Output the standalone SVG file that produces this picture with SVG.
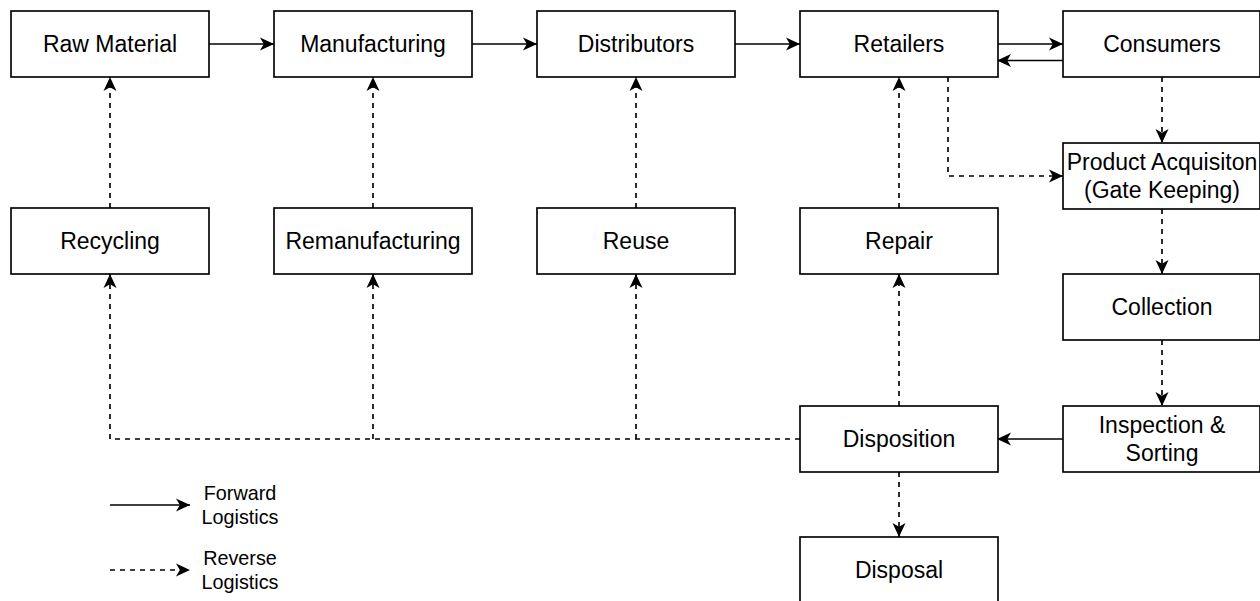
<svg xmlns="http://www.w3.org/2000/svg" width="1260" height="601" viewBox="0 0 1260 601">
  <style>
    .box { fill: #ffffff; stroke: #000000; stroke-width: 1.65; }
    .lbl { font-family: "Liberation Sans", Arial, sans-serif; font-size: 23px; fill: #000000; text-anchor: middle; }
    .leg { font-family: "Liberation Sans", Arial, sans-serif; font-size: 19.8px; fill: #000000; text-anchor: middle; }
    .fwd { fill: none; stroke: #000000; stroke-width: 1.65; marker-end: url(#arrow); }
    .rev { fill: none; stroke: #000000; stroke-width: 1.65; stroke-dasharray: 5 5; marker-end: url(#arrow); }
  </style>
  <defs>
    <!-- classic notched arrowhead, tip sits on the path end -->
    <marker id="arrow" markerUnits="userSpaceOnUse" markerWidth="15" markerHeight="15" refX="14" refY="7" orient="auto" viewBox="0 0 15 15">
      <path d="M0,0.5 L14,7 L0,13.5 L3.8,7 Z" fill="#000000" stroke="none"/>
    </marker>
  </defs>

  <rect width="1260" height="601" fill="#ffffff"/>

  <!-- connectors -->
  <g id="connectors">
    <!-- forward chain -->
    <path class="fwd" d="M209,44 L274,44"/>
    <path class="fwd" d="M472,44 L537,44"/>
    <path class="fwd" d="M735,44 L800,44"/>
    <path class="fwd" d="M997,44 L1063,44"/>
    <path class="fwd" d="M1063,60.5 L997,60.5"/>
    <path class="fwd" d="M1063,439 L997,439"/>

    <!-- returns to the forward chain -->
    <path class="rev" d="M110,208 L110,77"/>
    <path class="rev" d="M373,208 L373,77"/>
    <path class="rev" d="M636,208 L636,77"/>
    <path class="rev" d="M899,208 L899,77"/>

    <!-- collection path -->
    <path class="rev" d="M948,77 L948,176 L1063,176"/>
    <path class="rev" d="M1162,77 L1162,143"/>
    <path class="rev" d="M1162,209 L1162,274"/>
    <path class="rev" d="M1162,340 L1162,406"/>

    <!-- disposition outputs -->
    <path class="rev" d="M899,406 L899,274"/>
    <path class="rev" d="M899,472 L899,537"/>
    <path class="rev" d="M800,439 L110,439 L110,274"/>
    <path class="rev" d="M373,439 L373,274"/>
    <path class="rev" d="M636,439 L636,274"/>

    <!-- legend -->
    <path class="fwd" d="M110,505 L190,505"/>
    <path class="rev" d="M110,570 L190,570"/>
  </g>

  <!-- top row -->
  <g id="raw-material">
    <rect class="box" x="11" y="11" width="198" height="66"/>
    <text class="lbl" x="110" y="52.2">Raw Material</text>
  </g>
  <g id="manufacturing">
    <rect class="box" x="274" y="11" width="198" height="66"/>
    <text class="lbl" x="373" y="52.2">Manufacturing</text>
  </g>
  <g id="distributors">
    <rect class="box" x="537" y="11" width="198" height="66"/>
    <text class="lbl" x="636" y="52.2">Distributors</text>
  </g>
  <g id="retailers">
    <rect class="box" x="800" y="11" width="198" height="66"/>
    <text class="lbl" x="899" y="52.2">Retailers</text>
  </g>
  <g id="consumers">
    <rect class="box" x="1063" y="11" width="197" height="66"/>
    <text class="lbl" x="1162" y="52.2">Consumers</text>
  </g>

  <!-- recovery options -->
  <g id="recycling">
    <rect class="box" x="11" y="208" width="198" height="66"/>
    <text class="lbl" x="110" y="249.2">Recycling</text>
  </g>
  <g id="remanufacturing">
    <rect class="box" x="274" y="208" width="198" height="66"/>
    <text class="lbl" x="373" y="249.2">Remanufacturing</text>
  </g>
  <g id="reuse">
    <rect class="box" x="537" y="208" width="198" height="66"/>
    <text class="lbl" x="636" y="249.2">Reuse</text>
  </g>
  <g id="repair">
    <rect class="box" x="800" y="208" width="198" height="66"/>
    <text class="lbl" x="899" y="249.2">Repair</text>
  </g>

  <!-- reverse flow column -->
  <g id="product-acquisition">
    <rect class="box" x="1063" y="143" width="197" height="66"/>
    <text class="lbl" x="1162" y="170">Product Acquisiton</text>
    <text class="lbl" x="1162" y="198">(Gate Keeping)</text>
  </g>
  <g id="collection">
    <rect class="box" x="1063" y="274" width="197" height="66"/>
    <text class="lbl" x="1162" y="315.2">Collection</text>
  </g>
  <g id="inspection-sorting">
    <rect class="box" x="1063" y="406" width="197" height="66"/>
    <text class="lbl" x="1162" y="433">Inspection &amp;</text>
    <text class="lbl" x="1162" y="461">Sorting</text>
  </g>
  <g id="disposition">
    <rect class="box" x="800" y="406" width="198" height="66"/>
    <text class="lbl" x="899" y="447.2">Disposition</text>
  </g>
  <g id="disposal">
    <rect class="box" x="800" y="537" width="198" height="66"/>
    <text class="lbl" x="899" y="578.2">Disposal</text>
  </g>

  <!-- legend labels -->
  <g id="legend">
    <text class="leg" x="240" y="500">Forward</text>
    <text class="leg" x="240" y="524">Logistics</text>
    <text class="leg" x="240" y="565">Reverse</text>
    <text class="leg" x="240" y="589">Logistics</text>
  </g>
</svg>
